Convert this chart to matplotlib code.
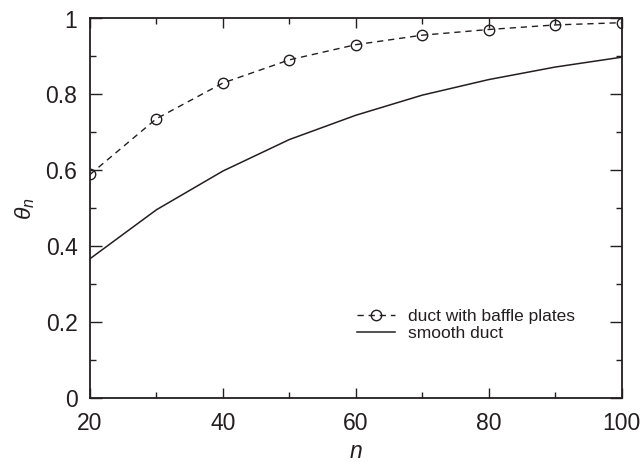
import matplotlib
matplotlib.use("Agg")
import matplotlib.pyplot as plt
from matplotlib.ticker import MultipleLocator

plt.rcParams['font.family'] = ['Liberation Sans', 'DejaVu Sans']
plt.rcParams['mathtext.fontset'] = 'custom'
plt.rcParams['mathtext.it'] = 'Liberation Sans:italic'
plt.rcParams['mathtext.rm'] = 'Liberation Sans'

n = [20, 30, 40, 50, 60, 70, 80, 90, 100]
baffle = [0.589, 0.736, 0.830, 0.891, 0.931, 0.956, 0.971, 0.983, 0.989]
smooth = [0.367, 0.496, 0.598, 0.681, 0.745, 0.798, 0.839, 0.872, 0.898]
yticks = [0, 0.2, 0.4, 0.6, 0.8, 1.0]
yticklabels = ['0', '0.2', '0.4', '0.6', '0.8', '1']

txt = '#231f20'
fig = plt.figure(figsize=(6.43, 4.65), dpi=100)
ax = fig.add_axes([90 / 643, 1 - 398 / 465, 531.5 / 643, 379.5 / 465])

ax.plot(n, baffle, color=txt, lw=1.0, dashes=(4.5, 3.5), marker='o', ms=7.5,
        mfc='none', mec=txt, mew=1.0, label='duct with baffle plates')
ax.plot(n, smooth, color=txt, lw=1.1, label='smooth duct')

ax.set_xlim(20, 100)
ax.set_ylim(0, 1)
ax.xaxis.set_major_locator(MultipleLocator(20))
ax.xaxis.set_minor_locator(MultipleLocator(10))
ax.yaxis.set_minor_locator(MultipleLocator(0.1))
ax.set_yticks(yticks)
ax.set_yticklabels(yticklabels)
ax.tick_params(which='both', direction='in', top=True, right=True,
               colors=txt, labelsize=16.5, width=1.0)
ax.tick_params(axis='x', which='major', length=7.5, pad=10)
ax.tick_params(axis='y', which='major', length=8.5, pad=9)
ax.tick_params(which='minor', length=4)
for s in ax.spines.values():
    s.set_linewidth(1.3)
    s.set_color(txt)

ax.set_xlabel('$n$', fontsize=16.5, color=txt, labelpad=4)
ax.set_ylabel(r'$\theta_n$', fontsize=16.5, color=txt, labelpad=6)

leg = ax.legend(loc='upper left', bbox_to_anchor=((357 - 90) / 531.5, (398 - 309) / 379.5),
                frameon=False, fontsize=12.5, handlelength=2.2, handletextpad=0.75,
                labelspacing=0.08, borderaxespad=0, borderpad=0)
for t in leg.get_texts():
    t.set_color(txt)

fig.savefig('out.png', dpi=100)
